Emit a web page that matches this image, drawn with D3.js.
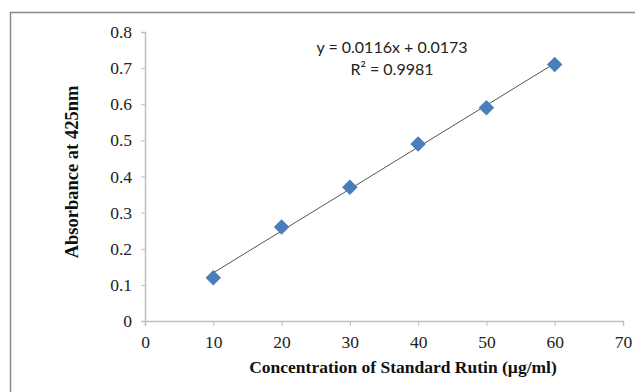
<!DOCTYPE html>
<html>
<head>
<meta charset="utf-8">
<script src="https://cdn.jsdelivr.net/npm/d3@7"></script>
<style>
  body { margin: 0; background: #fff; }
  svg { display: block; }
  .tick text { font-family: "Liberation Serif", "Times New Roman", serif; font-size: 17.5px; fill: #222; }
</style>
</head>
<body>
<div id="container"></div>
<script>
/* DATA */
const concentration = [10, 20, 30, 40, 50, 60];
const absorbance = [0.12, 0.26, 0.37, 0.49, 0.59, 0.71];
const xTicks = [0, 10, 20, 30, 40, 50, 60, 70];
const yTicks = [0, 0.1, 0.2, 0.3, 0.4, 0.5, 0.6, 0.7, 0.8];
const slope = 0.0116, intercept = 0.0173; // trendline from the chart
const eqText = "y = 0.0116x + 0.0173";
const r2Text = "R² = 0.9981";

const width = 635, height = 392;

const svg = d3.select("#container").append("svg")
  .attr("width", width)
  .attr("height", height);

// outer frame (cut off at right and bottom like the screenshot)
svg.append("rect")
  .attr("x", 10.5).attr("y", 12.5)
  .attr("width", 700).attr("height", 500)
  .attr("fill", "none")
  .attr("stroke", "#8a8a8a")
  .attr("stroke-width", 1.5);

/* SCALES */
const x = d3.scaleLinear().domain([0, 70]).range([145, 623]);
const y = d3.scaleLinear().domain([0, 0.8]).range([321, 32]);

const xAxis = d3.axisBottom(x).tickValues(xTicks).tickSize(5).tickPadding(6).tickFormat(d3.format("d"));
const yAxis = d3.axisLeft(y).tickValues(yTicks).tickSize(4).tickPadding(9).tickFormat(d => d === 0 ? "0" : d3.format(".1f")(d));

const gx = svg.append("g").attr("transform", `translate(0,${y(0)})`).call(xAxis);
const gy = svg.append("g").attr("transform", `translate(${x(0)},0)`).call(yAxis);
[gx, gy].forEach(g => {
  g.select(".domain").attr("stroke", "#bfbfbf").attr("stroke-width", 1.5);
  g.selectAll(".tick line").attr("stroke", "#bfbfbf").attr("stroke-width", 1);
});
gx.selectAll(".tick text").attr("dy", "0.9em");

// trendline
svg.append("line")
  .attr("x1", x(d3.min(concentration)))
  .attr("y1", y(slope * d3.min(concentration) + intercept))
  .attr("x2", x(d3.max(concentration)))
  .attr("y2", y(slope * d3.max(concentration) + intercept))
  .attr("stroke", "#555")
  .attr("stroke-width", 1);

// diamond markers
const diamond = d3.symbol().type(d3.symbolSquare).size(120);
svg.selectAll("path.pt")
  .data(concentration)
  .join("path")
  .attr("class", "pt")
  .attr("d", diamond)
  .attr("transform", (d, i) => `translate(${x(d)},${y(absorbance[i])}) rotate(45)`)
  .attr("fill", "#4a7ebb");

// equation
svg.append("text")
  .attr("x", 392).attr("y", 53)
  .attr("text-anchor", "middle")
  .style("font-family", "Lato, 'Open Sans', sans-serif")
  .style("font-size", "16px")
  .attr("fill", "#222")
  .text(eqText);
svg.append("text")
  .attr("x", 392).attr("y", 75)
  .attr("text-anchor", "middle")
  .style("font-family", "Lato, 'Open Sans', sans-serif")
  .style("font-size", "16px")
  .attr("fill", "#222")
  .text(r2Text);

// axis titles
svg.append("text")
  .attr("transform", "translate(78,172) rotate(-90)")
  .attr("text-anchor", "middle")
  .style("font-family", "'Liberation Serif', 'Times New Roman', serif")
  .style("font-weight", "bold")
  .style("font-size", "18.5px")
  .attr("fill", "#111")
  .text("Absorbance at 425nm");

svg.append("text")
  .attr("x", 403).attr("y", 373)
  .attr("text-anchor", "middle")
  .style("font-family", "'Liberation Serif', 'Times New Roman', serif")
  .style("font-weight", "bold")
  .style("font-size", "17.5px")
  .attr("fill", "#111")
  .text("Concentration of Standard Rutin (µg/ml)");
</script>
</body>
</html>
